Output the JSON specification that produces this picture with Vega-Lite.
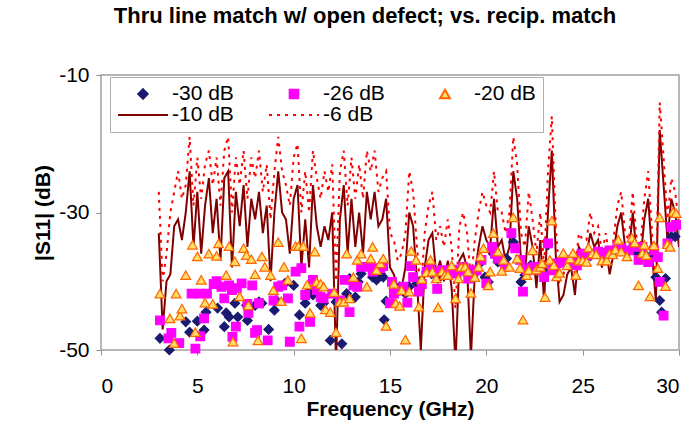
{
  "$schema": "https://vega.github.io/schema/vega-lite/v6.json",
  "width": 578,
  "height": 275,
  "autosize": "none",
  "padding": {"left": 101, "top": 75, "right": 12, "bottom": 92},
  "background": "white",
  "title": {"text": "Thru line match w/ open defect; vs. recip. match", "font": "Liberation Sans", "fontSize": 22, "fontWeight": "bold", "color": "#000000", "anchor": "middle", "offset": 36, "dx": -25},
  "config": {
    "view": {"stroke": "#a0a0a0", "strokeWidth": 1.5},
    "axis": {"labelFont": "Liberation Sans", "labelFontSize": 21, "labelColor": "#000000", "titleFont": "Liberation Sans", "titleFontSize": 21, "titleFontWeight": "bold", "titleColor": "#000000", "grid": false, "domain": false, "tickColor": "#909090", "tickSize": 5},
    "legend": {"orient": "none", "legendX": 9, "legendY": 2, "columns": 3, "direction": "horizontal", "padding": 7, "clipHeight": 20, "strokeColor": "#b0b0b0", "fillColor": "white", "labelFont": "Liberation Sans", "labelFontSize": 21, "labelColor": "#000000", "labelOffset": 3, "columnPadding": 34, "rowPadding": 0, "symbolStrokeWidth": 2}
  },
  "data": {"values": [
    {"f":3.0,"s":"-10 dB","v":-33},{"f":3.2,"s":"-10 dB","v":-47},{"f":3.4,"s":"-10 dB","v":-40},{"f":3.6,"s":"-10 dB","v":-39},{"f":3.8,"s":"-10 dB","v":-32},{"f":4.0,"s":"-10 dB","v":-31},{"f":4.2,"s":"-10 dB","v":-34},{"f":4.4,"s":"-10 dB","v":-30},{"f":4.6,"s":"-10 dB","v":-24},{"f":4.8,"s":"-10 dB","v":-35},
    {"f":5.0,"s":"-10 dB","v":-27},{"f":5.2,"s":"-10 dB","v":-36},{"f":5.4,"s":"-10 dB","v":-29},{"f":5.6,"s":"-10 dB","v":-25},{"f":5.8,"s":"-10 dB","v":-33},{"f":6.0,"s":"-10 dB","v":-28},{"f":6.2,"s":"-10 dB","v":-37},{"f":6.4,"s":"-10 dB","v":-25},{"f":6.6,"s":"-10 dB","v":-24},{"f":6.8,"s":"-10 dB","v":-38},
    {"f":7.0,"s":"-10 dB","v":-27},{"f":7.2,"s":"-10 dB","v":-32},{"f":7.4,"s":"-10 dB","v":-26},{"f":7.6,"s":"-10 dB","v":-35},{"f":7.8,"s":"-10 dB","v":-28},{"f":8.0,"s":"-10 dB","v":-31},{"f":8.2,"s":"-10 dB","v":-27},{"f":8.4,"s":"-10 dB","v":-33},{"f":8.6,"s":"-10 dB","v":-29},{"f":8.8,"s":"-10 dB","v":-40},
    {"f":9.0,"s":"-10 dB","v":-30},{"f":9.2,"s":"-10 dB","v":-24},{"f":9.4,"s":"-10 dB","v":-30},{"f":9.6,"s":"-10 dB","v":-31},{"f":9.8,"s":"-10 dB","v":-36},{"f":10.0,"s":"-10 dB","v":-28},{"f":10.2,"s":"-10 dB","v":-26},{"f":10.4,"s":"-10 dB","v":-38},{"f":10.6,"s":"-10 dB","v":-31},{"f":10.8,"s":"-10 dB","v":-38},
    {"f":11.0,"s":"-10 dB","v":-26},{"f":11.2,"s":"-10 dB","v":-32},{"f":11.4,"s":"-10 dB","v":-35},{"f":11.6,"s":"-10 dB","v":-32},{"f":11.8,"s":"-10 dB","v":-34},{"f":12.0,"s":"-10 dB","v":-30},{"f":12.2,"s":"-10 dB","v":-52},{"f":12.4,"s":"-10 dB","v":-31},{"f":12.6,"s":"-10 dB","v":-26},{"f":12.8,"s":"-10 dB","v":-36},
    {"f":13.0,"s":"-10 dB","v":-28},{"f":13.2,"s":"-10 dB","v":-35},{"f":13.4,"s":"-10 dB","v":-30},{"f":13.6,"s":"-10 dB","v":-36},{"f":13.8,"s":"-10 dB","v":-27},{"f":14.0,"s":"-10 dB","v":-31},{"f":14.2,"s":"-10 dB","v":-27},{"f":14.4,"s":"-10 dB","v":-32},{"f":14.6,"s":"-10 dB","v":-31},{"f":14.8,"s":"-10 dB","v":-28},
    {"f":15.0,"s":"-10 dB","v":-38},{"f":15.2,"s":"-10 dB","v":-39},{"f":15.4,"s":"-10 dB","v":-41},{"f":15.6,"s":"-10 dB","v":-41},{"f":15.8,"s":"-10 dB","v":-38},{"f":16.0,"s":"-10 dB","v":-30},{"f":16.2,"s":"-10 dB","v":-32},{"f":16.4,"s":"-10 dB","v":-40},{"f":16.6,"s":"-10 dB","v":-50},{"f":16.8,"s":"-10 dB","v":-38},
    {"f":17.0,"s":"-10 dB","v":-34},{"f":17.2,"s":"-10 dB","v":-33},{"f":17.4,"s":"-10 dB","v":-39},{"f":17.6,"s":"-10 dB","v":-37},{"f":17.8,"s":"-10 dB","v":-40},{"f":18.0,"s":"-10 dB","v":-37},{"f":18.2,"s":"-10 dB","v":-41},{"f":18.4,"s":"-10 dB","v":-52},{"f":18.6,"s":"-10 dB","v":-37},{"f":18.8,"s":"-10 dB","v":-36},
    {"f":19.0,"s":"-10 dB","v":-38},{"f":19.2,"s":"-10 dB","v":-51},{"f":19.4,"s":"-10 dB","v":-39},{"f":19.6,"s":"-10 dB","v":-35},{"f":19.8,"s":"-10 dB","v":-32},{"f":20.0,"s":"-10 dB","v":-34},{"f":20.2,"s":"-10 dB","v":-35},{"f":20.4,"s":"-10 dB","v":-28},{"f":20.6,"s":"-10 dB","v":-35},{"f":20.8,"s":"-10 dB","v":-34},
    {"f":21.0,"s":"-10 dB","v":-37},{"f":21.2,"s":"-10 dB","v":-35},{"f":21.4,"s":"-10 dB","v":-24},{"f":21.6,"s":"-10 dB","v":-28},{"f":21.8,"s":"-10 dB","v":-37},{"f":22.0,"s":"-10 dB","v":-39},{"f":22.2,"s":"-10 dB","v":-32},{"f":22.4,"s":"-10 dB","v":-35},{"f":22.6,"s":"-10 dB","v":-41},{"f":22.8,"s":"-10 dB","v":-34},
    {"f":23.0,"s":"-10 dB","v":-43},{"f":23.2,"s":"-10 dB","v":-30},{"f":23.4,"s":"-10 dB","v":-21},{"f":23.6,"s":"-10 dB","v":-36},{"f":23.8,"s":"-10 dB","v":-43},{"f":24.0,"s":"-10 dB","v":-42},{"f":24.2,"s":"-10 dB","v":-39},{"f":24.4,"s":"-10 dB","v":-38},{"f":24.6,"s":"-10 dB","v":-42},{"f":24.8,"s":"-10 dB","v":-35},
    {"f":25.0,"s":"-10 dB","v":-36},{"f":25.2,"s":"-10 dB","v":-36},{"f":25.4,"s":"-10 dB","v":-33},{"f":25.6,"s":"-10 dB","v":-35},{"f":25.8,"s":"-10 dB","v":-34},{"f":26.0,"s":"-10 dB","v":-38},{"f":26.2,"s":"-10 dB","v":-35},{"f":26.4,"s":"-10 dB","v":-39},{"f":26.6,"s":"-10 dB","v":-36},{"f":26.8,"s":"-10 dB","v":-32},
    {"f":27.0,"s":"-10 dB","v":-30},{"f":27.2,"s":"-10 dB","v":-35},{"f":27.4,"s":"-10 dB","v":-36},{"f":27.6,"s":"-10 dB","v":-30},{"f":27.8,"s":"-10 dB","v":-36},{"f":28.0,"s":"-10 dB","v":-37},{"f":28.2,"s":"-10 dB","v":-31},{"f":28.4,"s":"-10 dB","v":-28},{"f":28.6,"s":"-10 dB","v":-36},{"f":28.8,"s":"-10 dB","v":-43},
    {"f":29.0,"s":"-10 dB","v":-18},{"f":29.2,"s":"-10 dB","v":-26},{"f":29.4,"s":"-10 dB","v":-34},{"f":29.6,"s":"-10 dB","v":-28},{"f":29.8,"s":"-10 dB","v":-30},{"f":30.0,"s":"-10 dB","v":-35},

    {"f":3.0,"s":"-6 dB","v":-27},{"f":3.2,"s":"-6 dB","v":-40},{"f":3.4,"s":"-6 dB","v":-36},{"f":3.6,"s":"-6 dB","v":-30},{"f":3.8,"s":"-6 dB","v":-27},{"f":4.0,"s":"-6 dB","v":-24},{"f":4.2,"s":"-6 dB","v":-28},{"f":4.4,"s":"-6 dB","v":-26},{"f":4.6,"s":"-6 dB","v":-19},{"f":4.8,"s":"-6 dB","v":-29},
    {"f":5.0,"s":"-6 dB","v":-22},{"f":5.2,"s":"-6 dB","v":-28},{"f":5.4,"s":"-6 dB","v":-23},{"f":5.6,"s":"-6 dB","v":-21},{"f":5.8,"s":"-6 dB","v":-26},{"f":6.0,"s":"-6 dB","v":-22},{"f":6.2,"s":"-6 dB","v":-29},{"f":6.4,"s":"-6 dB","v":-21},{"f":6.6,"s":"-6 dB","v":-19},{"f":6.8,"s":"-6 dB","v":-30},
    {"f":7.0,"s":"-6 dB","v":-22},{"f":7.2,"s":"-6 dB","v":-26},{"f":7.4,"s":"-6 dB","v":-21},{"f":7.6,"s":"-6 dB","v":-28},{"f":7.8,"s":"-6 dB","v":-22},{"f":8.0,"s":"-6 dB","v":-25},{"f":8.2,"s":"-6 dB","v":-21},{"f":8.4,"s":"-6 dB","v":-27},{"f":8.6,"s":"-6 dB","v":-23},{"f":8.8,"s":"-6 dB","v":-31},
    {"f":9.0,"s":"-6 dB","v":-24},{"f":9.2,"s":"-6 dB","v":-19},{"f":9.4,"s":"-6 dB","v":-24},{"f":9.6,"s":"-6 dB","v":-26},{"f":9.8,"s":"-6 dB","v":-29},{"f":10.0,"s":"-6 dB","v":-22},{"f":10.2,"s":"-6 dB","v":-20},{"f":10.4,"s":"-6 dB","v":-30},{"f":10.6,"s":"-6 dB","v":-24},{"f":10.8,"s":"-6 dB","v":-30},
    {"f":11.0,"s":"-6 dB","v":-21},{"f":11.2,"s":"-6 dB","v":-25},{"f":11.4,"s":"-6 dB","v":-28},{"f":11.6,"s":"-6 dB","v":-24},{"f":11.8,"s":"-6 dB","v":-27},{"f":12.0,"s":"-6 dB","v":-23},{"f":12.2,"s":"-6 dB","v":-40},{"f":12.4,"s":"-6 dB","v":-24},{"f":12.6,"s":"-6 dB","v":-21},{"f":12.8,"s":"-6 dB","v":-29},
    {"f":13.0,"s":"-6 dB","v":-22},{"f":13.2,"s":"-6 dB","v":-28},{"f":13.4,"s":"-6 dB","v":-23},{"f":13.6,"s":"-6 dB","v":-28},{"f":13.8,"s":"-6 dB","v":-21},{"f":14.0,"s":"-6 dB","v":-24},{"f":14.2,"s":"-6 dB","v":-21},{"f":14.4,"s":"-6 dB","v":-27},{"f":14.6,"s":"-6 dB","v":-25},{"f":14.8,"s":"-6 dB","v":-24},
    {"f":15.0,"s":"-6 dB","v":-33},{"f":15.2,"s":"-6 dB","v":-34},{"f":15.4,"s":"-6 dB","v":-37},{"f":15.6,"s":"-6 dB","v":-36},{"f":15.8,"s":"-6 dB","v":-33},{"f":16.0,"s":"-6 dB","v":-24},{"f":16.2,"s":"-6 dB","v":-27},{"f":16.4,"s":"-6 dB","v":-35},{"f":16.6,"s":"-6 dB","v":-42},{"f":16.8,"s":"-6 dB","v":-33},
    {"f":17.0,"s":"-6 dB","v":-29},{"f":17.2,"s":"-6 dB","v":-27},{"f":17.4,"s":"-6 dB","v":-34},{"f":17.6,"s":"-6 dB","v":-32},{"f":17.8,"s":"-6 dB","v":-35},{"f":18.0,"s":"-6 dB","v":-31},{"f":18.2,"s":"-6 dB","v":-35},{"f":18.4,"s":"-6 dB","v":-44},{"f":18.6,"s":"-6 dB","v":-32},{"f":18.8,"s":"-6 dB","v":-30},
    {"f":19.0,"s":"-6 dB","v":-33},{"f":19.2,"s":"-6 dB","v":-40},{"f":19.4,"s":"-6 dB","v":-34},{"f":19.6,"s":"-6 dB","v":-30},{"f":19.8,"s":"-6 dB","v":-27},{"f":20.0,"s":"-6 dB","v":-29},{"f":20.2,"s":"-6 dB","v":-30},{"f":20.4,"s":"-6 dB","v":-24},{"f":20.6,"s":"-6 dB","v":-30},{"f":20.8,"s":"-6 dB","v":-30},
    {"f":21.0,"s":"-6 dB","v":-33},{"f":21.2,"s":"-6 dB","v":-30},{"f":21.4,"s":"-6 dB","v":-19},{"f":21.6,"s":"-6 dB","v":-23},{"f":21.8,"s":"-6 dB","v":-33},{"f":22.0,"s":"-6 dB","v":-35},{"f":22.2,"s":"-6 dB","v":-27},{"f":22.4,"s":"-6 dB","v":-31},{"f":22.6,"s":"-6 dB","v":-36},{"f":22.8,"s":"-6 dB","v":-30},
    {"f":23.0,"s":"-6 dB","v":-38},{"f":23.2,"s":"-6 dB","v":-24},{"f":23.4,"s":"-6 dB","v":-16},{"f":23.6,"s":"-6 dB","v":-32},{"f":23.8,"s":"-6 dB","v":-40},{"f":24.0,"s":"-6 dB","v":-39},{"f":24.2,"s":"-6 dB","v":-37},{"f":24.4,"s":"-6 dB","v":-36},{"f":24.6,"s":"-6 dB","v":-39},{"f":24.8,"s":"-6 dB","v":-33},
    {"f":25.0,"s":"-6 dB","v":-34},{"f":25.2,"s":"-6 dB","v":-34},{"f":25.4,"s":"-6 dB","v":-30},{"f":25.6,"s":"-6 dB","v":-33},{"f":25.8,"s":"-6 dB","v":-32},{"f":26.0,"s":"-6 dB","v":-36},{"f":26.2,"s":"-6 dB","v":-33},{"f":26.4,"s":"-6 dB","v":-37},{"f":26.6,"s":"-6 dB","v":-34},{"f":26.8,"s":"-6 dB","v":-29},
    {"f":27.0,"s":"-6 dB","v":-27},{"f":27.2,"s":"-6 dB","v":-33},{"f":27.4,"s":"-6 dB","v":-34},{"f":27.6,"s":"-6 dB","v":-27},{"f":27.8,"s":"-6 dB","v":-34},{"f":28.0,"s":"-6 dB","v":-35},{"f":28.2,"s":"-6 dB","v":-28},{"f":28.4,"s":"-6 dB","v":-24},{"f":28.6,"s":"-6 dB","v":-33},{"f":28.8,"s":"-6 dB","v":-41},
    {"f":29.0,"s":"-6 dB","v":-14},{"f":29.2,"s":"-6 dB","v":-22},{"f":29.4,"s":"-6 dB","v":-31},{"f":29.6,"s":"-6 dB","v":-25},{"f":29.8,"s":"-6 dB","v":-27},{"f":30.0,"s":"-6 dB","v":-32},

    {"f":3.06,"s":"-30 dB","v":-48.3},{"f":3.55,"s":"-30 dB","v":-50},{"f":4.4,"s":"-30 dB","v":-45.9},{"f":4.6,"s":"-30 dB","v":-47.4},{"f":5.0,"s":"-30 dB","v":-45.8},{"f":5.35,"s":"-30 dB","v":-47.1},{"f":5.45,"s":"-30 dB","v":-44.5},{"f":6.05,"s":"-30 dB","v":-43.9},{"f":6.4,"s":"-30 dB","v":-46.6},{"f":6.5,"s":"-30 dB","v":-44.6},
    {"f":6.65,"s":"-30 dB","v":-45.2},{"f":6.95,"s":"-30 dB","v":-43.2},{"f":7.1,"s":"-30 dB","v":-45.2},{"f":7.55,"s":"-30 dB","v":-43.5},{"f":7.6,"s":"-30 dB","v":-45.7},{"f":8.0,"s":"-30 dB","v":-43.5},{"f":8.2,"s":"-30 dB","v":-43},{"f":8.35,"s":"-30 dB","v":-43.2},{"f":8.7,"s":"-30 dB","v":-47},{"f":9.0,"s":"-30 dB","v":-44.2},
    {"f":9.1,"s":"-30 dB","v":-42.8},{"f":9.55,"s":"-30 dB","v":-40.3},{"f":10.0,"s":"-30 dB","v":-40.6},{"f":10.3,"s":"-30 dB","v":-44.9},{"f":10.6,"s":"-30 dB","v":-43.2},{"f":10.85,"s":"-30 dB","v":-41.3},{"f":11.0,"s":"-30 dB","v":-42},{"f":11.4,"s":"-30 dB","v":-43.5},{"f":11.55,"s":"-30 dB","v":-43.2},{"f":11.9,"s":"-30 dB","v":-48.6},
    {"f":12.2,"s":"-30 dB","v":-43},{"f":12.5,"s":"-30 dB","v":-49.1},{"f":12.75,"s":"-30 dB","v":-41.8},{"f":12.9,"s":"-30 dB","v":-39.6},{"f":13.2,"s":"-30 dB","v":-42.3},{"f":13.35,"s":"-30 dB","v":-40.1},{"f":13.5,"s":"-30 dB","v":-38.9},{"f":14.1,"s":"-30 dB","v":-39.4},{"f":14.3,"s":"-30 dB","v":-39.8},{"f":14.5,"s":"-30 dB","v":-38.9},
    {"f":14.65,"s":"-30 dB","v":-39.4},{"f":14.7,"s":"-30 dB","v":-45.6},{"f":14.8,"s":"-30 dB","v":-42.9},{"f":15.5,"s":"-30 dB","v":-40.8},{"f":15.8,"s":"-30 dB","v":-41.8},{"f":16.0,"s":"-30 dB","v":-40.8},{"f":16.4,"s":"-30 dB","v":-40.3},{"f":16.55,"s":"-30 dB","v":-40.1},{"f":17.15,"s":"-30 dB","v":-38.9},{"f":17.5,"s":"-30 dB","v":-39.6},
    {"f":17.95,"s":"-30 dB","v":-38.9},{"f":18.3,"s":"-30 dB","v":-38.4},{"f":18.6,"s":"-30 dB","v":-38.6},{"f":19.0,"s":"-30 dB","v":-38.6},{"f":19.06,"s":"-30 dB","v":-39.1},{"f":19.4,"s":"-30 dB","v":-38.9},{"f":19.7,"s":"-30 dB","v":-37.3},{"f":19.93,"s":"-30 dB","v":-39.4},{"f":20.1,"s":"-30 dB","v":-40.1},{"f":20.36,"s":"-30 dB","v":-36},
    {"f":20.6,"s":"-30 dB","v":-37.2},{"f":21.05,"s":"-30 dB","v":-36.7},{"f":21.4,"s":"-30 dB","v":-34.3},{"f":21.5,"s":"-30 dB","v":-35},{"f":21.8,"s":"-30 dB","v":-40.1},{"f":22.0,"s":"-30 dB","v":-39.1},{"f":22.3,"s":"-30 dB","v":-37.7},{"f":22.65,"s":"-30 dB","v":-38.4},{"f":22.85,"s":"-30 dB","v":-38},{"f":23.04,"s":"-30 dB","v":-38.6},
    {"f":23.2,"s":"-30 dB","v":-34.7},{"f":23.4,"s":"-30 dB","v":-38.1},{"f":23.8,"s":"-30 dB","v":-37.4},{"f":24.1,"s":"-30 dB","v":-37.2},{"f":24.4,"s":"-30 dB","v":-36.7},{"f":24.7,"s":"-30 dB","v":-37.2},{"f":25.0,"s":"-30 dB","v":-36.5},{"f":25.4,"s":"-30 dB","v":-36.3},{"f":25.8,"s":"-30 dB","v":-36},{"f":26.2,"s":"-30 dB","v":-36.2},
    {"f":26.6,"s":"-30 dB","v":-35.6},{"f":27.0,"s":"-30 dB","v":-35.5},{"f":27.4,"s":"-30 dB","v":-35.6},{"f":27.8,"s":"-30 dB","v":-35.8},{"f":28.2,"s":"-30 dB","v":-36},{"f":28.6,"s":"-30 dB","v":-36.4},{"f":28.8,"s":"-30 dB","v":-39.4},{"f":29.0,"s":"-30 dB","v":-42.8},{"f":29.1,"s":"-30 dB","v":-44.5},{"f":29.3,"s":"-30 dB","v":-39.6},
    {"f":29.6,"s":"-30 dB","v":-33.5},{"f":29.8,"s":"-30 dB","v":-33.5},

    {"f":3.06,"s":"-26 dB","v":-45.7},{"f":3.5,"s":"-26 dB","v":-48.3},{"f":3.65,"s":"-26 dB","v":-47.5},{"f":4.06,"s":"-26 dB","v":-49},{"f":4.7,"s":"-26 dB","v":-41.8},{"f":4.9,"s":"-26 dB","v":-49.8},{"f":5.1,"s":"-26 dB","v":-41.8},{"f":5.15,"s":"-26 dB","v":-48},{"f":5.35,"s":"-26 dB","v":-45.4},{"f":5.5,"s":"-26 dB","v":-41.8},
    {"f":5.85,"s":"-26 dB","v":-40.4},{"f":6.0,"s":"-26 dB","v":-40},{"f":6.25,"s":"-26 dB","v":-40.8},{"f":6.4,"s":"-26 dB","v":-42.5},{"f":6.65,"s":"-26 dB","v":-40.6},{"f":6.8,"s":"-26 dB","v":-41.3},{"f":6.82,"s":"-26 dB","v":-48.1},{"f":7.0,"s":"-26 dB","v":-46.6},{"f":7.05,"s":"-26 dB","v":-41},{"f":7.3,"s":"-26 dB","v":-40.3},
    {"f":7.6,"s":"-26 dB","v":-43.3},{"f":7.65,"s":"-26 dB","v":-44.6},{"f":7.85,"s":"-26 dB","v":-40.6},{"f":8.0,"s":"-26 dB","v":-47.5},{"f":8.1,"s":"-26 dB","v":-47.1},{"f":8.2,"s":"-26 dB","v":-43.2},{"f":8.65,"s":"-26 dB","v":-48.6},{"f":8.95,"s":"-26 dB","v":-42.8},{"f":9.2,"s":"-26 dB","v":-40.8},{"f":9.4,"s":"-26 dB","v":-40.6},
    {"f":9.7,"s":"-26 dB","v":-42.5},{"f":9.8,"s":"-26 dB","v":-48.8},{"f":10.1,"s":"-26 dB","v":-38.6},{"f":10.3,"s":"-26 dB","v":-46.6},{"f":10.4,"s":"-26 dB","v":-38.1},{"f":10.6,"s":"-26 dB","v":-42},{"f":10.85,"s":"-26 dB","v":-45.9},{"f":11.0,"s":"-26 dB","v":-39.8},{"f":11.2,"s":"-26 dB","v":-41.3},{"f":11.4,"s":"-26 dB","v":-42.3},
    {"f":11.55,"s":"-26 dB","v":-42.5},{"f":12.0,"s":"-26 dB","v":-41.8},{"f":12.4,"s":"-26 dB","v":-42.8},{"f":12.65,"s":"-26 dB","v":-39.8},{"f":12.9,"s":"-26 dB","v":-44.5},{"f":13.1,"s":"-26 dB","v":-40.6},{"f":13.3,"s":"-26 dB","v":-40.8},{"f":13.5,"s":"-26 dB","v":-37.9},{"f":14.0,"s":"-26 dB","v":-37.9},{"f":14.1,"s":"-26 dB","v":-38.6},
    {"f":14.3,"s":"-26 dB","v":-38.2},{"f":14.5,"s":"-26 dB","v":-38.1},{"f":14.65,"s":"-26 dB","v":-37.8},{"f":15.0,"s":"-26 dB","v":-43.2},{"f":15.1,"s":"-26 dB","v":-40.1},{"f":15.2,"s":"-26 dB","v":-41.8},{"f":15.3,"s":"-26 dB","v":-41.4},{"f":15.5,"s":"-26 dB","v":-41.3},{"f":15.7,"s":"-26 dB","v":-40.8},{"f":15.9,"s":"-26 dB","v":-43.1},
    {"f":16.1,"s":"-26 dB","v":-37.8},{"f":16.2,"s":"-26 dB","v":-39.4},{"f":16.5,"s":"-26 dB","v":-41.5},{"f":16.65,"s":"-26 dB","v":-40.4},{"f":16.9,"s":"-26 dB","v":-38.6},{"f":17.1,"s":"-26 dB","v":-37.9},{"f":17.25,"s":"-26 dB","v":-38.7},{"f":17.45,"s":"-26 dB","v":-41.1},{"f":17.7,"s":"-26 dB","v":-38.4},{"f":17.95,"s":"-26 dB","v":-38.8},
    {"f":18.2,"s":"-26 dB","v":-38.3},{"f":18.45,"s":"-26 dB","v":-38.9},{"f":18.6,"s":"-26 dB","v":-38.4},{"f":18.8,"s":"-26 dB","v":-37.9},{"f":19.0,"s":"-26 dB","v":-38.4},{"f":19.06,"s":"-26 dB","v":-39.6},{"f":19.3,"s":"-26 dB","v":-38.9},{"f":19.5,"s":"-26 dB","v":-38.4},{"f":19.75,"s":"-26 dB","v":-36.9},{"f":20.0,"s":"-26 dB","v":-40.3},
    {"f":20.3,"s":"-26 dB","v":-35},{"f":20.45,"s":"-26 dB","v":-36},{"f":20.6,"s":"-26 dB","v":-36.7},{"f":20.96,"s":"-26 dB","v":-37.9},{"f":21.3,"s":"-26 dB","v":-33},{"f":21.5,"s":"-26 dB","v":-35.2},{"f":21.75,"s":"-26 dB","v":-36.9},{"f":21.9,"s":"-26 dB","v":-41.5},{"f":22.1,"s":"-26 dB","v":-38.4},{"f":22.3,"s":"-26 dB","v":-38.1},
    {"f":22.5,"s":"-26 dB","v":-37.9},{"f":22.8,"s":"-26 dB","v":-38.4},{"f":23.0,"s":"-26 dB","v":-39.4},{"f":23.2,"s":"-26 dB","v":-34.5},{"f":23.4,"s":"-26 dB","v":-38.4},{"f":23.65,"s":"-26 dB","v":-37.4},{"f":23.9,"s":"-26 dB","v":-37.2},{"f":24.2,"s":"-26 dB","v":-37.4},{"f":24.4,"s":"-26 dB","v":-36.9},{"f":24.5,"s":"-26 dB","v":-37.4},
    {"f":24.7,"s":"-26 dB","v":-37.7},{"f":24.95,"s":"-26 dB","v":-36},{"f":25.2,"s":"-26 dB","v":-36.2},{"f":25.45,"s":"-26 dB","v":-36},{"f":25.8,"s":"-26 dB","v":-35.7},{"f":26.15,"s":"-26 dB","v":-36},{"f":26.4,"s":"-26 dB","v":-35.5},{"f":26.8,"s":"-26 dB","v":-34.9},{"f":27.0,"s":"-26 dB","v":-35.2},{"f":27.4,"s":"-26 dB","v":-35.5},
    {"f":27.65,"s":"-26 dB","v":-35},{"f":27.9,"s":"-26 dB","v":-36.9},{"f":28.1,"s":"-26 dB","v":-35},{"f":28.4,"s":"-26 dB","v":-37.2},{"f":28.7,"s":"-26 dB","v":-35.5},{"f":28.9,"s":"-26 dB","v":-36.5},{"f":29.0,"s":"-26 dB","v":-40.1},{"f":29.2,"s":"-26 dB","v":-45},{"f":29.4,"s":"-26 dB","v":-34.5},{"f":29.6,"s":"-26 dB","v":-32.1},
    {"f":29.85,"s":"-26 dB","v":-31.8},

    {"f":3.06,"s":"-20 dB","v":-41.8},{"f":3.58,"s":"-20 dB","v":-45.4},{"f":3.8,"s":"-20 dB","v":-49},{"f":3.9,"s":"-20 dB","v":-41.8},{"f":4.1,"s":"-20 dB","v":-45},{"f":4.2,"s":"-20 dB","v":-44},{"f":4.4,"s":"-20 dB","v":-39.1},{"f":4.75,"s":"-20 dB","v":-34.7},{"f":4.9,"s":"-20 dB","v":-47.4},{"f":5.0,"s":"-20 dB","v":-36.4},
    {"f":5.2,"s":"-20 dB","v":-39.8},{"f":5.4,"s":"-20 dB","v":-43.1},{"f":5.6,"s":"-20 dB","v":-36},{"f":5.8,"s":"-20 dB","v":-43.3},{"f":6.0,"s":"-20 dB","v":-36.3},{"f":6.1,"s":"-20 dB","v":-34.5},{"f":6.5,"s":"-20 dB","v":-39.1},{"f":6.65,"s":"-20 dB","v":-34.9},{"f":6.85,"s":"-20 dB","v":-48.8},{"f":6.95,"s":"-20 dB","v":-37.1},
    {"f":7.2,"s":"-20 dB","v":-42.2},{"f":7.4,"s":"-20 dB","v":-35.2},{"f":7.55,"s":"-20 dB","v":-36.2},{"f":7.65,"s":"-20 dB","v":-43.5},{"f":7.8,"s":"-20 dB","v":-36.8},{"f":8.0,"s":"-20 dB","v":-39},{"f":8.15,"s":"-20 dB","v":-48.6},{"f":8.35,"s":"-20 dB","v":-36.4},{"f":8.5,"s":"-20 dB","v":-37.9},{"f":8.8,"s":"-20 dB","v":-39.1},
    {"f":8.95,"s":"-20 dB","v":-41.3},{"f":9.2,"s":"-20 dB","v":-34.3},{"f":9.35,"s":"-20 dB","v":-42.9},{"f":9.5,"s":"-20 dB","v":-37.9},{"f":9.7,"s":"-20 dB","v":-39.8},{"f":10.1,"s":"-20 dB","v":-34.9},{"f":10.25,"s":"-20 dB","v":-34.9},{"f":10.4,"s":"-20 dB","v":-48.3},{"f":10.5,"s":"-20 dB","v":-34.9},{"f":10.7,"s":"-20 dB","v":-40.5},
    {"f":10.85,"s":"-20 dB","v":-44.6},{"f":11.1,"s":"-20 dB","v":-35.7},{"f":11.2,"s":"-20 dB","v":-40.1},{"f":11.4,"s":"-20 dB","v":-40.4},{"f":11.55,"s":"-20 dB","v":-40.8},{"f":11.65,"s":"-20 dB","v":-44.1},{"f":11.9,"s":"-20 dB","v":-44.5},{"f":12.1,"s":"-20 dB","v":-41.6},{"f":12.2,"s":"-20 dB","v":-47.4},{"f":12.4,"s":"-20 dB","v":-43},
    {"f":12.6,"s":"-20 dB","v":-43},{"f":12.75,"s":"-20 dB","v":-36},{"f":12.9,"s":"-20 dB","v":-42.5},{"f":13.1,"s":"-20 dB","v":-39.4},{"f":13.3,"s":"-20 dB","v":-36.9},{"f":13.5,"s":"-20 dB","v":-36},{"f":13.8,"s":"-20 dB","v":-40.8},{"f":14.0,"s":"-20 dB","v":-36.7},{"f":14.1,"s":"-20 dB","v":-35},{"f":14.3,"s":"-20 dB","v":-38.4},
    {"f":14.5,"s":"-20 dB","v":-37.4},{"f":14.65,"s":"-20 dB","v":-36.7},{"f":14.8,"s":"-20 dB","v":-46.5},{"f":15.2,"s":"-20 dB","v":-40.4},{"f":15.3,"s":"-20 dB","v":-43.2},{"f":15.5,"s":"-20 dB","v":-43.6},{"f":15.6,"s":"-20 dB","v":-41.3},{"f":15.8,"s":"-20 dB","v":-48.5},{"f":16.0,"s":"-20 dB","v":-41.5},{"f":16.1,"s":"-20 dB","v":-35.6},
    {"f":16.35,"s":"-20 dB","v":-36.9},{"f":16.5,"s":"-20 dB","v":-43.7},{"f":16.65,"s":"-20 dB","v":-39.7},{"f":16.9,"s":"-20 dB","v":-38.7},{"f":17.1,"s":"-20 dB","v":-36.9},{"f":17.2,"s":"-20 dB","v":-38.6},{"f":17.4,"s":"-20 dB","v":-39.6},{"f":17.5,"s":"-20 dB","v":-43.8},{"f":17.7,"s":"-20 dB","v":-38.6},{"f":17.85,"s":"-20 dB","v":-39.1},
    {"f":18.0,"s":"-20 dB","v":-39.1},{"f":18.2,"s":"-20 dB","v":-37.7},{"f":18.4,"s":"-20 dB","v":-42.5},{"f":18.55,"s":"-20 dB","v":-39.6},{"f":18.7,"s":"-20 dB","v":-37.9},{"f":18.9,"s":"-20 dB","v":-37.9},{"f":19.05,"s":"-20 dB","v":-38.6},{"f":19.2,"s":"-20 dB","v":-41.7},{"f":19.4,"s":"-20 dB","v":-39.4},{"f":19.6,"s":"-20 dB","v":-37.9},
    {"f":19.7,"s":"-20 dB","v":-36.4},{"f":19.85,"s":"-20 dB","v":-35.2},{"f":20.1,"s":"-20 dB","v":-40.6},{"f":20.2,"s":"-20 dB","v":-38.6},{"f":20.36,"s":"-20 dB","v":-33},{"f":20.6,"s":"-20 dB","v":-35.7},{"f":20.8,"s":"-20 dB","v":-38.5},{"f":20.9,"s":"-20 dB","v":-36.9},{"f":21.2,"s":"-20 dB","v":-37.9},{"f":21.4,"s":"-20 dB","v":-30.7},
    {"f":21.6,"s":"-20 dB","v":-36.7},{"f":21.75,"s":"-20 dB","v":-38.1},{"f":21.9,"s":"-20 dB","v":-45.6},{"f":22.1,"s":"-20 dB","v":-39.1},{"f":22.2,"s":"-20 dB","v":-38.4},{"f":22.4,"s":"-20 dB","v":-35.5},{"f":22.6,"s":"-20 dB","v":-38.3},{"f":22.8,"s":"-20 dB","v":-37.9},{"f":22.9,"s":"-20 dB","v":-37.4},{"f":23.05,"s":"-20 dB","v":-42.3},
    {"f":23.3,"s":"-20 dB","v":-36.9},{"f":23.4,"s":"-20 dB","v":-31.2},{"f":23.5,"s":"-20 dB","v":-37.7},{"f":23.65,"s":"-20 dB","v":-39.3},{"f":23.8,"s":"-20 dB","v":-38.8},{"f":24.0,"s":"-20 dB","v":-35.9},{"f":24.2,"s":"-20 dB","v":-37.7},{"f":24.35,"s":"-20 dB","v":-36.7},{"f":24.5,"s":"-20 dB","v":-35.9},{"f":24.65,"s":"-20 dB","v":-39.1},
    {"f":24.8,"s":"-20 dB","v":-37},{"f":25.0,"s":"-20 dB","v":-37},{"f":25.2,"s":"-20 dB","v":-37.2},{"f":25.3,"s":"-20 dB","v":-35.1},{"f":25.5,"s":"-20 dB","v":-36},{"f":25.7,"s":"-20 dB","v":-36.1},{"f":26.0,"s":"-20 dB","v":-37},{"f":26.25,"s":"-20 dB","v":-37},{"f":26.4,"s":"-20 dB","v":-36},{"f":26.56,"s":"-20 dB","v":-36.1},
    {"f":26.7,"s":"-20 dB","v":-35.4},{"f":26.85,"s":"-20 dB","v":-34},{"f":27.0,"s":"-20 dB","v":-35.7},{"f":27.3,"s":"-20 dB","v":-36.4},{"f":27.55,"s":"-20 dB","v":-33.7},{"f":27.7,"s":"-20 dB","v":-34.4},{"f":27.9,"s":"-20 dB","v":-40.6},{"f":28.1,"s":"-20 dB","v":-35.9},{"f":28.2,"s":"-20 dB","v":-34.7},{"f":28.3,"s":"-20 dB","v":-36.2},
    {"f":28.5,"s":"-20 dB","v":-42.2},{"f":28.7,"s":"-20 dB","v":-34.8},{"f":28.9,"s":"-20 dB","v":-38.1},{"f":29.0,"s":"-20 dB","v":-30.7},{"f":29.3,"s":"-20 dB","v":-40.7},{"f":29.4,"s":"-20 dB","v":-34.6},{"f":29.54,"s":"-20 dB","v":-35},{"f":29.7,"s":"-20 dB","v":-29.9},{"f":29.85,"s":"-20 dB","v":-30.1}
  ]},
  "encoding": {
    "x": {"field": "f", "type": "quantitative", "scale": {"domain": [0, 30], "nice": false}, "axis": {"values": [0, 5, 10, 15, 20, 25, 30], "title": "Frequency (GHz)", "labelPadding": 20, "titlePadding": 2}},
    "y": {"field": "v", "type": "quantitative", "scale": {"domain": [-50, -10], "nice": false, "zero": false}, "axis": {"values": [-50, -30, -10], "labelExpr": "replace(datum.label, '\u2212', '-')", "title": "|S11| (dB)", "labelPadding": 7, "titlePadding": 5}}
  },
  "layer": [
    {
      "transform": [{"filter": {"field": "s", "oneOf": ["-10 dB", "-6 dB"]}}],
      "mark": {"type": "line", "clip": true, "strokeWidth": 2},
      "encoding": {
        "stroke": {"field": "s", "type": "nominal", "scale": {"domain": ["-30 dB", "-26 dB", "-20 dB", "-10 dB", "-6 dB"], "range": ["#1a1a70", "#ff00ff", "#ff6600", "#800000", "#ff0000"]}, "legend": {"title": null}},
        "strokeDash": {"field": "s", "type": "nominal", "scale": {"domain": ["-30 dB", "-26 dB", "-20 dB", "-10 dB", "-6 dB"], "range": [[1, 0], [1, 0], [1, 0], [1, 0], [3, 5]]}, "legend": {"title": null}}
      }
    },
    {
      "transform": [{"filter": {"field": "s", "oneOf": ["-30 dB", "-26 dB", "-20 dB"]}}],
      "mark": {"type": "point", "filled": true, "strokeWidth": 1.2, "opacity": 1},
      "encoding": {
        "stroke": {"field": "s", "type": "nominal", "legend": {"title": null}},
        "fill": {"field": "s", "type": "nominal", "scale": {"domain": ["-30 dB", "-26 dB", "-20 dB", "-10 dB", "-6 dB"], "range": ["#1a1a70", "#ff00ff", "#ffdd66", "#800000", "#ff0000"]}, "legend": {"title": null}},
        "shape": {"field": "s", "type": "nominal", "scale": {"domain": ["-30 dB", "-26 dB", "-20 dB", "-10 dB", "-6 dB"], "range": ["diamond", "square", "triangle-up", "stroke", "stroke"]}, "legend": {"title": null}},
        "size": {"field": "s", "type": "nominal", "scale": {"type": "ordinal", "domain": ["-30 dB", "-26 dB", "-20 dB", "-10 dB", "-6 dB"], "range": [90, 75, 95, 2500, 2500]}, "legend": {"title": null}}
      }
    }
  ]
}
